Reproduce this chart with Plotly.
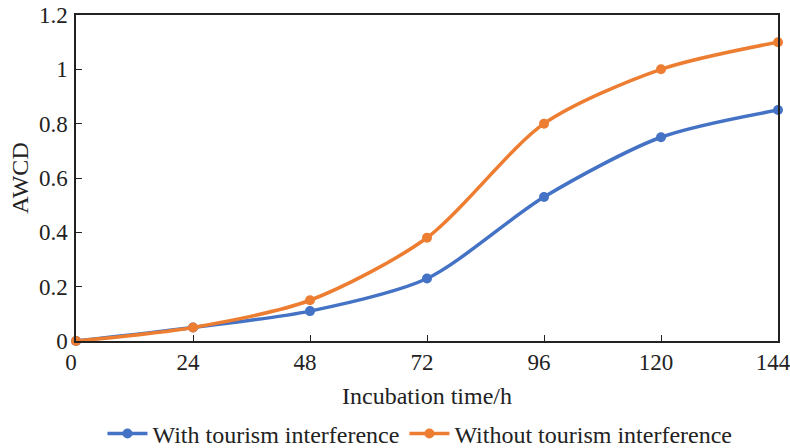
import plotly.graph_objects as go

hours = [0, 24, 48, 72, 96, 120, 144]
with_tourism = [0, 0.05, 0.11, 0.23, 0.53, 0.75, 0.85]
without_tourism = [0, 0.05, 0.15, 0.38, 0.80, 1.00, 1.10]
series_names = ["With tourism interference", "Without tourism interference"]
tick_vals_x = [0, 24, 48, 72, 96, 120, 144]
tick_vals_y = [0, 0.2, 0.4, 0.6, 0.8, 1.0, 1.2]

FONT = "Liberation Serif, Times New Roman, serif"

fig = go.Figure()
fig.add_trace(go.Scatter(x=hours, y=with_tourism, name=series_names[0], mode="lines+markers",
                         line=dict(color="#4472C4", width=3.5, shape="spline", smoothing=0.8),
                         marker=dict(size=10, color="#4472C4"), cliponaxis=False))
fig.add_trace(go.Scatter(x=hours, y=without_tourism, name=series_names[1], mode="lines+markers",
                         line=dict(color="#ED7D31", width=3.5, shape="spline", smoothing=0.8),
                         marker=dict(size=10, color="#ED7D31"), cliponaxis=False))

axis_common = dict(showline=True, linecolor="#222222", linewidth=1.5, mirror=True, automargin=False,
                   ticks="inside", ticklen=6, tickcolor="#222222", showgrid=False, zeroline=False,
                   tickfont=dict(family=FONT, size=23, color="#222222"))

fig.update_layout(
    width=790, height=448,
    margin=dict(l=76, r=12, t=15, b=107, autoexpand=False),
    paper_bgcolor="white", plot_bgcolor="white",
    font=dict(family=FONT, size=23, color="#222222"),
    xaxis=dict(range=[0, 144], tickvals=tick_vals_x, ticklabeloverflow="allow", ticklabelshift=-5,
               title=dict(text="Incubation time/h", font=dict(family=FONT, size=24), standoff=13),
               **axis_common),
    yaxis=dict(range=[0, 1.2], tickvals=tick_vals_y, ticklabelstandoff=2, ticklabeloverflow="allow",
               title=dict(text="AWCD", font=dict(family=FONT, size=24), standoff=4),
               **axis_common),
    legend=dict(orientation="h", x=0.49, xanchor="center", y=-0.285, yanchor="middle",
                font=dict(family=FONT, size=24), itemwidth=40, tracegroupgap=0,
                bgcolor="rgba(0,0,0,0)"),
    showlegend=True,
)

fig.write_html("out.html", config={"displayModeBar": False},
               post_script="document.body.style.margin='0';document.body.style.overflow='hidden';")
